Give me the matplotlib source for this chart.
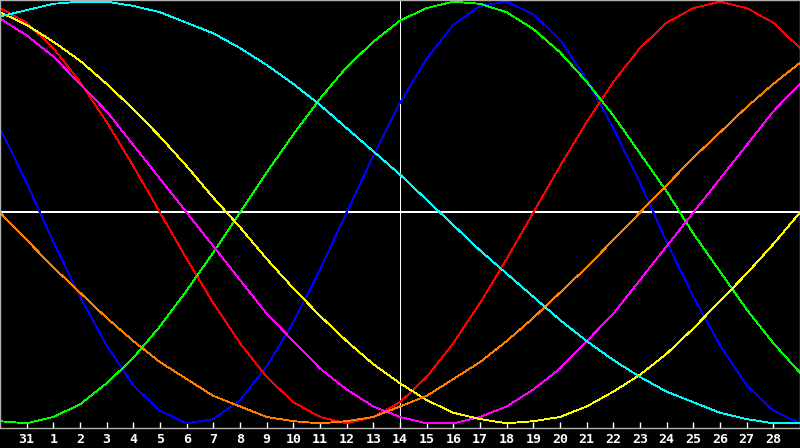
import numpy as np
import matplotlib
matplotlib.use("Agg")
import matplotlib.pyplot as plt

# day offsets: -1 is the 30th of last month, 0 the 31st, then 1..29 of this month
days = np.arange(-1, 30)
tick_days = np.arange(0, 29)
tick_labels = ["31"] + [str(d) for d in range(1, 29)]
today = 14

# cycle values, one per day
physical = [0.40, 0.14, -0.14, -0.40, -0.63, -0.82, -0.94, -1.00, -0.98, -0.89, -0.73,
            -0.52, -0.27, 0.00, 0.27, 0.52, 0.73, 0.89, 0.98, 1.00, 0.94, 0.82,
            0.63, 0.40, 0.14, -0.14, -0.40, -0.63, -0.82, -0.94, -1.00]
emotional = [0.97, 0.90, 0.78, 0.62, 0.43, 0.22, 0.00, -0.22, -0.43, -0.62, -0.78,
             -0.90, -0.97, -1.00, -0.97, -0.90, -0.78, -0.62, -0.43, -0.22, 0.00, 0.22,
             0.43, 0.62, 0.78, 0.90, 0.97, 1.00, 0.97, 0.90, 0.78]
intellectual = [-0.99, -1.00, -0.97, -0.91, -0.81, -0.69, -0.54, -0.37, -0.19, 0.00, 0.19,
                0.37, 0.54, 0.69, 0.81, 0.91, 0.97, 1.00, 0.99, 0.95, 0.87, 0.76,
                0.62, 0.46, 0.28, 0.10, -0.10, -0.28, -0.46, -0.62, -0.76]
intuitive = [0.92, 0.84, 0.74, 0.61, 0.48, 0.32, 0.16, 0.00, -0.16, -0.32, -0.48,
             -0.61, -0.74, -0.84, -0.92, -0.97, -1.00, -1.00, -0.97, -0.92, -0.84, -0.74,
             -0.61, -0.48, -0.32, -0.16, 0.00, 0.16, 0.32, 0.48, 0.61]
aesthetic = [0.95, 0.89, 0.81, 0.72, 0.61, 0.49, 0.36, 0.22, 0.07, -0.07, -0.22,
             -0.36, -0.49, -0.61, -0.72, -0.81, -0.89, -0.95, -0.98, -1.00, -0.99, -0.97,
             -0.92, -0.85, -0.77, -0.67, -0.55, -0.42, -0.29, -0.15, 0.00]
awareness = [0.00, -0.13, -0.26, -0.38, -0.50, -0.61, -0.71, -0.79, -0.87, -0.92, -0.97,
             -0.99, -1.00, -0.99, -0.97, -0.92, -0.87, -0.79, -0.71, -0.61, -0.50, -0.38,
             -0.26, -0.13, 0.00, 0.13, 0.26, 0.38, 0.50, 0.61, 0.71]
spiritual = [0.93, 0.96, 0.99, 1.00, 1.00, 0.98, 0.95, 0.90, 0.85, 0.78, 0.70,
             0.61, 0.51, 0.40, 0.29, 0.18, 0.06, -0.06, -0.18, -0.29, -0.40, -0.51,
             -0.61, -0.70, -0.78, -0.85, -0.90, -0.95, -0.98, -1.00, -1.00]

series = [
    (physical, "#0000ff"),
    (emotional, "#ff0000"),
    (intellectual, "#00ff00"),
    (intuitive, "#ff00ff"),
    (aesthetic, "#ffff00"),
    (awareness, "#ff8000"),
    (spiritual, "#00ffff"),
]

fig = plt.figure(figsize=(8, 4.48), dpi=100, facecolor="black")
ax = fig.add_axes([0, 20/448, 1, 428/448])
ax.set_facecolor("black")

# center lines
ax.axhline(0, color="white", lw=1.3, antialiased=False, zorder=1)
ax.axvline(today, color="white", lw=0.7, antialiased=False, zorder=1)

for vals, col in series:
    ax.plot(days, vals, color=col, lw=0.6, antialiased=False, zorder=2)

ax.set_xlim(-1, 29)
ax.set_ylim(-1.0223, 1.008)

for s in ax.spines.values():
    s.set_color("#b0b0b0")
    s.set_linewidth(1.0)

ax.set_yticks([])
ax.set_xticks(tick_days)
ax.set_xticklabels(tick_labels, fontfamily="DejaVu Sans Mono", fontweight="bold", fontsize=9.5)
ax.tick_params(axis="x", direction="in", length=4, width=1, color="white",
               labelcolor="white", pad=3.5)

fig.savefig("out.png", dpi=100, facecolor="black")
